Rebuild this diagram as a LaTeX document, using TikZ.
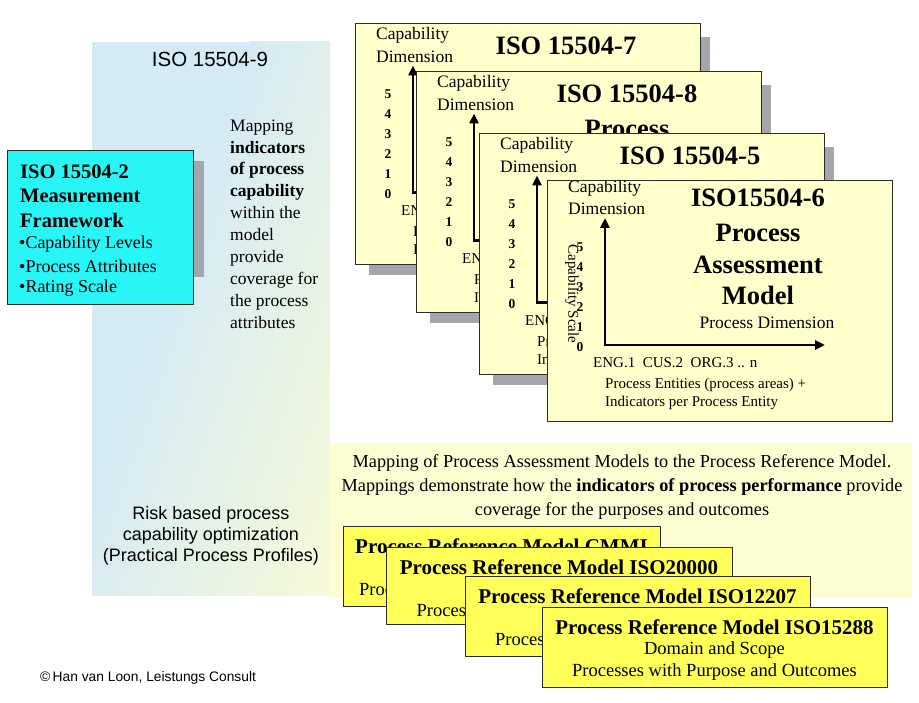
\documentclass[tikz,border=0pt]{standalone}
\usepackage{fontspec}
\setmainfont{Liberation Serif}
\newfontfamily\arialfont{Liberation Sans}
\usetikzlibrary{arrows.meta}
\definecolor{bandblue}{RGB}{212,234,245}
\definecolor{bandyellow}{RGB}{253,253,210}
\definecolor{cardfill}{RGB}{255,255,204}
\definecolor{cardshadow}{RGB}{165,165,172}
\definecolor{cyanbox}{RGB}{40,246,246}
\definecolor{prmfill}{RGB}{255,255,90}
\definecolor{edge}{RGB}{45,45,38}
\tikzset{
  capt/.style={inner sep=0pt, font=\fontsize{17.5}{21}\selectfont},
  ttl/.style={inner sep=0pt, font=\fontsize{26.5}{31}\selectfont\bfseries},
  dig/.style={inner sep=0pt, font=\fontsize{13.5}{16}\selectfont\bfseries},
  ent/.style={inner sep=0pt, font=\fontsize{15}{18}\selectfont},
  axisline/.style={line width=2.6pt, {Triangle[length=10pt,width=9pt]}-{Triangle[length=10pt,width=9pt]}},
  card/.style={draw=edge, line width=1.3pt, fill=cardfill, minimum width=345pt, minimum height=241pt, inner sep=0pt, anchor=north west},
  prm/.style={draw=edge, line width=1.3pt, fill=prmfill, inner sep=0pt, anchor=north west},
  prmt/.style={inner sep=0pt, font=\fontsize{21}{25}\selectfont\bfseries},
  prmb/.style={inner sep=0pt, font=\fontsize{18.5}{22}\selectfont},
  mfb/.style={inner sep=0pt, anchor=west, font=\fontsize{20.5}{24}\selectfont\bfseries},
  mfr/.style={inner sep=0pt, anchor=west, font=\fontsize{18}{21}\selectfont},
  sanslbl/.style={inner sep=0pt, font=\arialfont\fontsize{18}{21}\selectfont, align=center},
}
\newcommand\isocard[6]{%
  \begin{scope}[shift={(#2,#3)}]
    \node[card] (#1) at (0,0) {};
    \begin{scope}[shift={(0,#5)}]
      \node[capt, anchor=west] (#1-cap) at (21,8) {Capability};
      \node[capt, anchor=west] (#1-dim) at (21,29) {Dimension};
      \node[ttl] (#1-t1) at (211,18) {#4};
      \node[ttl] (#1-t2) at (211,53) {Process};
      \node[ttl] (#1-t3) at (211,85) {Assessment};
      \node[ttl] (#1-t4) at (211,115) {Model};
      \node[capt] (#1-pd) at (220,143) {Process Dimension};
      #6
      \foreach \d/\yy in {5/67,4/87,3/107,2/127,1/147,0/167}
        \node[dig] (#1-d\d) at (33,\yy) {\d};
      \coordinate (#1-up) at (58,38);
      \coordinate (#1-o) at (58,165);
      \coordinate (#1-rt) at (278,165);
      \draw[axisline] (#1-up) -- (#1-o) -- (#1-rt);
      \node[ent, anchor=west] (#1-e1) at (46,183) {ENG.1\ \ CUS.2\ \ ORG.3 .. n};
      \node[ent, anchor=west] (#1-e2) at (58,205) {Process Entities (process areas) +};
      \node[ent, anchor=west] (#1-e3) at (58,223) {Indicators per Process Entity};
    \end{scope}
  \end{scope}}
\newcommand\prmbox[6]{%
  \begin{scope}[shift={(#2,#3)}]
    \node[prm, minimum width=#4pt, minimum height=#5pt] (#1) at (0,0) {};
    \node[prmt] (#1-t) at ({#4/2},20) {Process Reference Model #6};
    \node[prmb] (#1-b1) at ({#4/2},43) {Domain and Scope};
    \node[prmb] (#1-b2) at ({#4/2},65) {Processes with Purpose and Outcomes};
  \end{scope}}
\begin{document}
\begin{tikzpicture}[x=1pt,y=-1pt]
\useasboundingbox (0,0) rectangle (919,703);
\fill[white] (0,0) rectangle (919,703);
% background bands
\fill[bandyellow] (326,443) rectangle (912,598);
\begin{scope}
  \clip (92,42) rectangle (330,595);
  \fill[bandblue] (92,42) rectangle (330,595);
  \begin{scope}[transform canvas={rotate around={-19.5:(313,318)}}]
    \shade[left color=bandblue, right color=bandyellow] (161,-400) rectangle (465,1000);
    \fill[bandyellow] (464,-400) rectangle (900,1000);
  \end{scope}
\end{scope}
\node[inner sep=0pt, font=\arialfont\fontsize{20.5}{24}\selectfont] (iso9) at (210,59) {ISO 15504-9};
% measurement framework box
\fill[cardshadow] (194,161) rectangle (204,277);
\node[draw=edge, line width=1.3pt, fill=cyanbox, minimum width=186pt, minimum height=154pt, anchor=north west, inner sep=0pt] (mf) at (7,150) {};
\node[mfb] (mf1) at (20,172) {ISO 15504-2};
\node[mfb] (mf2) at (20,196) {Measurement};
\node[mfb] (mf3) at (20,220) {Framework};
\node[mfr] (mf4) at (19,244) {•Capability Levels};
\node[mfr] (mf5) at (19,266) {•Process Attributes};
\node[mfr] (mf6) at (19,288) {•Rating Scale};
% mapping text
\node[inner sep=0pt, anchor=west, align=left, font=\fontsize{17.5}{21.9}\selectfont] (mapind) at (230,224) {Mapping\\\textbf{indicators}\\\textbf{of process}\\\textbf{capability}\\within the\\model\\provide\\coverage for\\the process\\attributes};
% assessment model cards
\fill[cardshadow] (369,37) rectangle (710,275);
\isocard{c7}{355}{23}{ISO 15504-7}{4.5}{}
\fill[cardshadow] (430,85) rectangle (771,323);
\isocard{c8}{416}{71}{ISO 15504-8}{4.5}{}
\fill[cardshadow] (493,147) rectangle (834,385);
\isocard{c5}{479}{133}{ISO 15504-5}{4.5}{}
\isocard{c6}{547}{180}{ISO15504-6}{0}{\node[inner sep=0pt, rotate=-90, font=\fontsize{15}{18}\selectfont] (c6-scale) at (25,114) {Capability Scale};}
% PRM mapping text
\node[inner sep=0pt, align=center, font=\fontsize{18.3}{24}\selectfont] (mapprm) at (622,487) {Mapping of Process Assessment Models to the Process Reference Model.\\Mappings demonstrate how the \textbf{indicators of process performance} provide\\coverage for the purposes and outcomes};
% risk text
\node[sanslbl] (risk) at (211,536) {Risk based process\\capability optimization\\(Practical Process Profiles)};
% process reference model boxes
\prmbox{pa}{343}{526}{317}{80}{CMMI}
\prmbox{pb}{386}{547}{346}{77}{ISO20000}
\prmbox{pc}{465}{576}{345}{80}{ISO12207}
\prmbox{pd}{542}{607}{345}{80}{ISO15288}
% copyright
\node[inner sep=0pt, anchor=west, font=\arialfont\fontsize{13.8}{16}\selectfont] (copy) at (40,678) {©\,Han van Loon, Leistungs Consult};
\end{tikzpicture}
\end{document}
